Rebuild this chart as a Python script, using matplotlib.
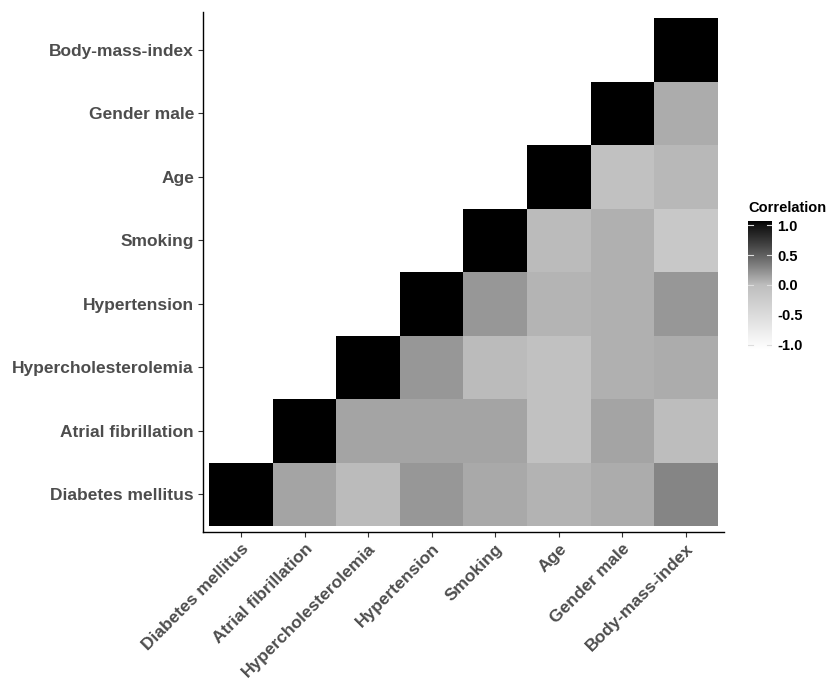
import numpy as np
import matplotlib
matplotlib.use("Agg")
import matplotlib.pyplot as plt
from matplotlib.colors import ListedColormap

plt.rcParams['font.family'] = ['Liberation Sans', 'DejaVu Sans']

labels = ['Diabetes mellitus', 'Atrial fibrillation', 'Hypercholesterolemia',
          'Hypertension', 'Smoking', 'Age', 'Gender male', 'Body-mass-index']

# upper triangle rows (row variable vs. columns to its right, incl. diagonal)
r_diabetes = [1.0, 0.12, 0.01, 0.18, 0.10, 0.05, 0.08, 0.28]
r_atrial = [1.0, 0.12, 0.12, 0.12, -0.05, 0.12, 0.00]
r_hyperchol = [1.0, 0.18, 0.01, -0.05, 0.07, 0.08]
r_hypertens = [1.0, 0.18, 0.04, 0.07, 0.18]
r_smoking = [1.0, 0.01, 0.07, -0.16]
r_age = [1.0, -0.05, 0.03]
r_gender = [1.0, 0.08]
r_bmi = [1.0]

rows = [r_diabetes, r_atrial, r_hyperchol, r_hypertens, r_smoking, r_age, r_gender, r_bmi]
n = len(labels)
M = np.full((n, n), np.nan)
for i, r in enumerate(rows):
    M[i, i:] = r


# white -> grey -> black, interpolated in L* like ggplot's gradient2
def srgb_to_L(g):
    c = g / 255.0
    lin = ((c + 0.055) / 1.055) ** 2.4 if c > 0.04045 else c / 12.92
    return 116 * lin ** (1 / 3) - 16 if lin > 0.008856 else 903.3 * lin

def L_to_srgb(L):
    Y = ((L + 16) / 116) ** 3 if L > 8 else L / 903.3
    c = 1.055 * Y ** (1 / 2.4) - 0.055 if Y > 0.0031308 else 12.92 * Y
    return min(max(c, 0), 1)

Lw, Lm, Lb = 100.0, srgb_to_L(190), 0.0
vals = np.linspace(-1, 1, 256)
cols = []
for v in vals:
    L = Lm + (Lw - Lm) * (-v) if v < 0 else Lm + (Lb - Lm) * v
    g = L_to_srgb(L)
    cols.append((g, g, g))
cmap = ListedColormap(cols)

fig = plt.figure(figsize=(8.29, 6.78), dpi=100)
ax = fig.add_axes([203 / 829, 1 - 532 / 678, 521 / 829, 520 / 678])
ax.imshow(M, cmap=cmap, vmin=-1, vmax=1, origin='lower', aspect='auto',
          extent=[-0.5, n - 0.5, -0.5, n - 0.5], interpolation='nearest')
ax.set_xlim(-0.6, n - 0.4)
ax.set_ylim(-0.6, n - 0.4)

ax.set_xticks(range(n))
ax.set_yticks(range(n))
ax.set_xticklabels(labels, rotation=45, ha='right', rotation_mode='anchor',
                   fontsize=12.5, fontweight='bold', color='#4d4d4d')
ax.set_yticklabels(labels, fontsize=12.5, fontweight='bold', color='#4d4d4d')
ax.tick_params(length=3.5, width=0.8, color='#333333', pad=3)
for s in ['top', 'right']:
    ax.spines[s].set_visible(False)
for s in ['left', 'bottom']:
    ax.spines[s].set_linewidth(1.0)

# colorbar
cax = fig.add_axes([748 / 829, 1 - 349 / 678, 24 / 829, 128 / 678])
grad = np.linspace(-1, 1, 256).reshape(-1, 1)
cax.imshow(grad, cmap=cmap, vmin=-1, vmax=1, origin='lower', aspect='auto',
           extent=[0, 1, -1.07, 1.07])
cax.set_xlim(0, 1)
cax.set_ylim(-1.07, 1.07)
for t in [-1, -0.5, 0, 0.5, 1]:
    cax.plot([0, 0.2], [t, t], color='#dddddd', lw=0.8)
    cax.plot([0.8, 1], [t, t], color='#dddddd', lw=0.8)
cax.set_xticks([])
cax.yaxis.tick_right()
cax.set_yticks([-1, -0.5, 0, 0.5, 1])
cax.set_yticklabels(['-1.0', '-0.5', '0.0', '0.5', '1.0'], fontsize=10.5,
                    fontweight='bold')
cax.tick_params(length=0, pad=4)
for s in cax.spines.values():
    s.set_visible(False)
fig.text(748 / 829, 1 - 208 / 678, 'Correlation', fontsize=10.5,
         fontweight='bold', va='center', ha='left')

fig.savefig('out.png', dpi=100)
